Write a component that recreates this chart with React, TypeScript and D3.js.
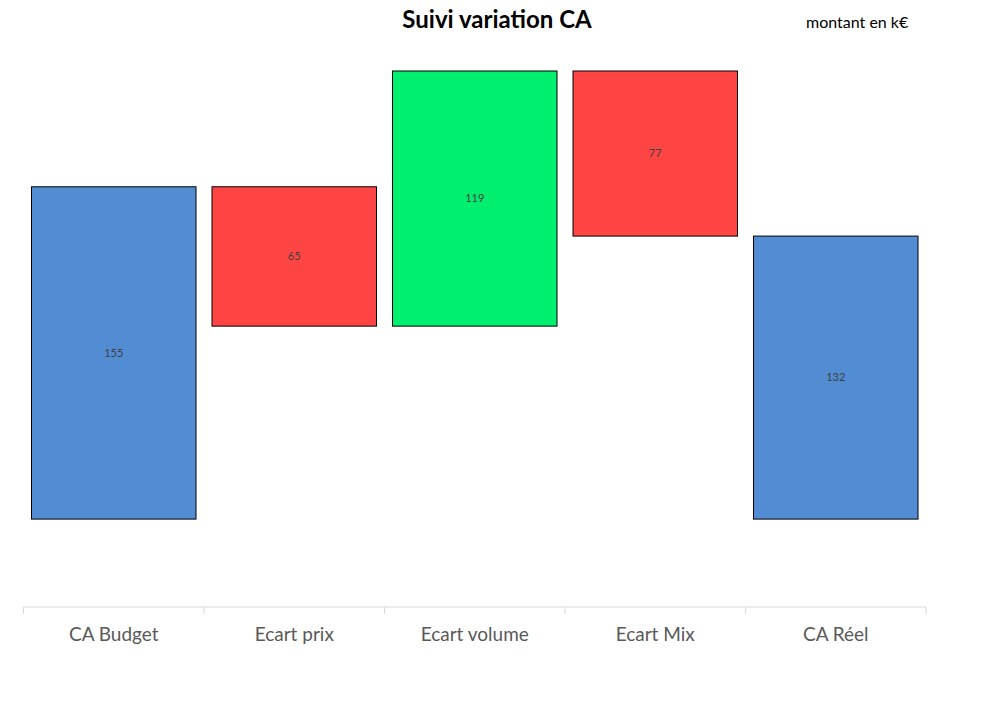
import React, { useEffect, useRef } from 'react';
import * as d3 from 'd3';

// Waterfall data (montant en k€)
const categories = ['CA Budget', 'Ecart prix', 'Ecart volume', 'Ecart Mix', 'CA Réel'];
const values = [155, -65, 119, -77, 132];
const kinds = ['total', 'delta', 'delta', 'delta', 'total'];

const COLORS = { total: '#528CD3', up: '#00EF6E', down: '#FF4444' };

const App: React.FC = () => {
  const svgRef = useRef<SVGSVGElement>(null);

  useEffect(() => {
    if (!svgRef.current) return;
    const svg = d3.select(svgRef.current);
    svg.selectAll('*').remove();

    // compute start/end of each bar
    let running = 0;
    const bars = categories.map((name, i) => {
      const v = values[i];
      let y0: number, y1: number, color: string;
      if (kinds[i] === 'total') {
        y0 = 0; y1 = v; running = v; color = COLORS.total;
      } else {
        y0 = running; y1 = running + v; running = y1;
        color = v >= 0 ? COLORS.up : COLORS.down;
      }
      return { name, value: Math.abs(v), y0, y1, color };
    });

    const x = d3.scaleBand<string>()
      .domain(categories)
      .range([15.5, 918])
      .paddingInner(0)
      .paddingOuter(0);

    const y = d3.scaleLinear().domain([-41, 209]).range([599, 63]);

    const g = svg.append('g');
    const pad = 8;

    g.selectAll('rect')
      .data(bars)
      .enter()
      .append('rect')
      .attr('x', d => x(d.name)! + pad)
      .attr('width', x.bandwidth() - 2 * pad)
      .attr('y', d => y(Math.max(d.y0, d.y1)))
      .attr('height', d => Math.abs(y(d.y0) - y(d.y1)))
      .style('fill', d => d.color)
      .style('stroke', '#000')
      .style('stroke-width', 1);

    g.selectAll('text.val')
      .data(bars)
      .enter()
      .append('text')
      .attr('class', 'val')
      .attr('x', d => x(d.name)! + x.bandwidth() / 2)
      .attr('y', d => (y(d.y0) + y(d.y1)) / 2)
      .attr('dy', '0.35em')
      .style('text-anchor', 'middle')
      .style('font-family', 'Lato, "Open Sans", sans-serif')
      .style('font-size', '11px')
      .style('fill', '#404040')
      .text(d => d.value);

    // category axis
    const axis = svg.append('g').attr('transform', `translate(0,${y(-41)})`);
    axis.append('line')
      .attr('x1', x.range()[0]).attr('x2', x.range()[1])
      .attr('y1', 0).attr('y2', 0)
      .style('stroke', '#D9D9D9');
    const edges = [...categories.map(c => x(c)!), x.range()[1]];
    axis.selectAll('line.tick')
      .data(edges)
      .enter()
      .append('line')
      .attr('class', 'tick')
      .attr('x1', d => d).attr('x2', d => d)
      .attr('y1', 0).attr('y2', 7)
      .style('stroke', '#D9D9D9');
    axis.selectAll('text')
      .data(categories)
      .enter()
      .append('text')
      .attr('x', d => x(d)! + x.bandwidth() / 2)
      .attr('y', 34)
      .style('text-anchor', 'middle')
      .style('font-family', 'Lato, "Open Sans", sans-serif')
      .style('font-size', '19px')
      .style('fill', '#595959')
      .text(d => d);

    svg.append('text')
      .attr('x', 489)
      .attr('y', 20)
      .style('text-anchor', 'middle')
      .style('font-family', 'Lato, "Open Sans", sans-serif')
      .style('font-weight', 'bold')
      .style('font-size', '24px')
      .style('fill', '#000')
      .text('Suivi variation CA');

    svg.append('text')
      .attr('x', 798)
      .attr('y', 20)
      .style('font-family', 'Lato, "Open Sans", sans-serif')
      .style('font-size', '16px')
      .style('fill', '#000')
      .text('montant en k€');
  }, []);

  return (
    <svg ref={svgRef} width={979} height={687} style={{ display: 'block', background: '#fff' }} />
  );
};

export default App;
